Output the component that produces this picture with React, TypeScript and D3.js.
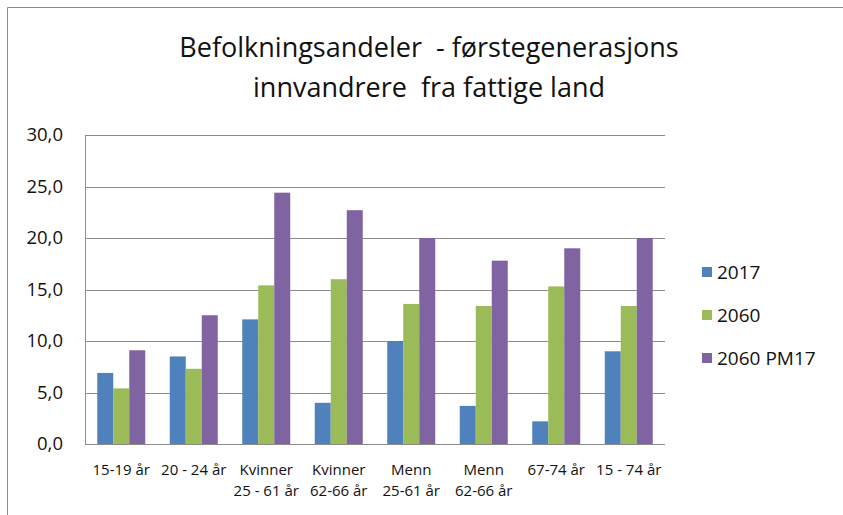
import React from 'react';
import * as d3 from 'd3';

// age groups, wrapped the way the x axis shows them
const categories = [
	[ '15-19 år' ],
	[ '20 - 24 år' ],
	[ 'Kvinner', '25 - 61 år' ],
	[ 'Kvinner', '62-66 år' ],
	[ 'Menn', '25-61 år' ],
	[ 'Menn', '62-66 år' ],
	[ '67-74 år' ],
	[ '15 - 74 år' ]
];

const seriesNames = [ '2017', '2060', '2060 PM17' ];
const values2017 = [ 6.9, 8.5, 12.1, 4.0, 10.0, 3.7, 2.2, 9.0 ];
const values2060 = [ 5.4, 7.3, 15.4, 16.0, 13.6, 13.4, 15.3, 13.4 ];
const values2060pm17 = [ 9.1, 12.5, 24.4, 22.7, 20.0, 17.8, 19.0, 20.0 ];
const yTicks = [ 0, 5, 10, 15, 20, 25, 30 ];

const colors = [ '#4F81BD', '#9BBB59', '#8064A2' ];
const titleLines = [ 'Befolkningsandeler  - førstegenerasjons', 'innvandrere  fra fattige land' ];

const W = 843,
	H = 515;
const plot = { left: 85, right: 665, top: 135, bottom: 444 };
const font = '"Open Sans", "DejaVu Sans", sans-serif';

const no = d3.formatLocale({ decimal: ',', thousands: ' ', grouping: [ 3 ], currency: [ '', ' kr' ] });
const fmt = no.format('.1f');

const App = () => {
	const series = [ values2017, values2060, values2060pm17 ];

	const x0 = d3
		.scaleBand<number>()
		.domain(d3.range(categories.length))
		.range([ plot.left, plot.right ])
		.paddingInner(0.338)
		.paddingOuter(0.169);

	const x1 = d3.scaleBand<number>().domain(d3.range(seriesNames.length)).range([ 0, x0.bandwidth() ]);

	const y = d3.scaleLinear().domain([ 0, 30 ]).range([ plot.bottom, plot.top ]);

	const cx = (i: number) => (x0(i) as number) + x0.bandwidth() / 2;

	return (
		<svg width={W} height={H} style={{ position: 'absolute', left: 0, top: 0, background: '#fff' }}>
			<rect x={0} y={0} width={W} height={H} fill="#fff" />
			{/* outer chart frame */}
			<line x1={7.5} x2={W} y1={7.5} y2={7.5} stroke="#8a8a8a" />
			<line x1={7.5} x2={7.5} y1={7.5} y2={H} stroke="#8a8a8a" />

			{titleLines.map((t, i) => (
				<text
					key={t}
					x={429}
					y={57 + i * 40}
					textAnchor="middle"
					fontFamily={font}
					fontSize={27}
					fill="#111"
					style={{ whiteSpace: 'pre' }}
				>
					{t}
				</text>
			))}

			{/* gridlines + y labels */}
			{yTicks.map((t) => (
				<g key={t}>
					<line x1={plot.left} x2={plot.right} y1={Math.round(y(t)) + 0.5} y2={Math.round(y(t)) + 0.5} stroke="#8c8c8c" />
					<text
						x={63}
						y={y(t)}
						dy="0.35em"
						textAnchor="end"
						fontFamily={font}
						fontSize={18.5}
						fill="#111"
					>
						{fmt(t)}
					</text>
				</g>
			))}
			<line x1={plot.left + 0.5} x2={plot.left + 0.5} y1={y(30)} y2={plot.bottom} stroke="#8c8c8c" />

			{/* bars */}
			{categories.map((c, ci) => (
				<g key={ci} transform={`translate(${x0(ci)},0)`}>
					{series.map((vals, si) => (
						<rect
							key={si}
							x={x1(si)}
							y={y(vals[ci])}
							width={x1.bandwidth()}
							height={y(0) - y(vals[ci])}
							fill={colors[si]}
						/>
					))}
				</g>
			))}

			{/* x labels, one text per line */}
			{categories.map((lines, ci) =>
				lines.map((l, li) => (
					<text
						key={`${ci}-${li}`}
						x={cx(ci)}
						y={475 + li * 20.5}
						textAnchor="middle"
						fontFamily={font}
						fontSize={15}
						fill="#111"
					>
						{l}
					</text>
				))
			)}

			{/* legend */}
			{seriesNames.map((name, i) => (
				<g key={name} transform={`translate(702,${272 + i * 43})`}>
					<rect x={0} y={-5} width={10} height={10} fill={colors[i]} />
					<text x={15} y={0} dy="0.35em" fontFamily={font} fontSize={19} fill="#111">
						{name}
					</text>
				</g>
			))}
		</svg>
	);
};

export default App;
